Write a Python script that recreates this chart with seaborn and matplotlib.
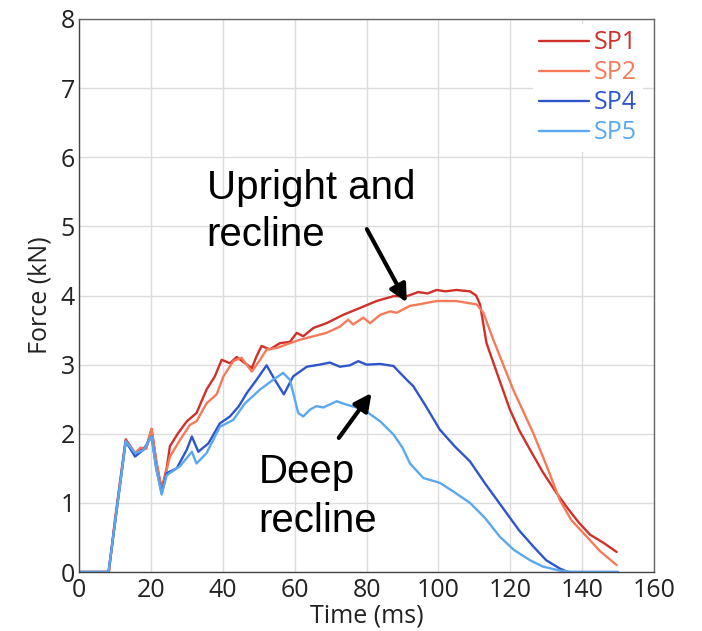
import matplotlib

matplotlib.use("Agg")
import matplotlib.pyplot as plt
import numpy as np
import pandas as pd
import seaborn as sns

# values (time in ms, force in kN)
SP1_T = [0, 8.3, 10, 13, 15.6, 17.5, 18.7, 20.2, 21.5, 23, 24.4, 25.3, 27.6, 30, 32.7,
         35.5, 37.8, 39.7, 42, 43.9, 46.2, 48.1, 49.4, 50.8, 53.1, 55.9, 58.7, 60.6,
         62.4, 65.2, 68.9, 73.5, 78.2, 82.8, 87.5, 91.2, 94.4, 97, 99.5, 102, 105,
         108.8, 110.5, 111.6, 113.4, 116.5, 119.9, 122.5, 125.5, 129, 132.9, 136,
         139, 142.2, 146, 149.6]
SP1_V = [0, 0, 0.75, 1.92, 1.72, 1.79, 1.8, 2.07, 1.6, 1.2, 1.5, 1.82, 2.01, 2.18, 2.3,
         2.64, 2.83, 3.07, 3.02, 3.11, 3.02, 2.95, 3.12, 3.27, 3.22, 3.31, 3.33, 3.46,
         3.41, 3.53, 3.6, 3.72, 3.82, 3.92, 3.99, 3.99, 4.05, 4.03, 4.08, 4.06, 4.08,
         4.06, 4.0, 3.87, 3.31, 2.85, 2.35, 2.05, 1.77, 1.45, 1.14, 0.92, 0.72, 0.54,
         0.42, 0.29]

SP2_T = [0, 8.3, 10, 13, 15.6, 17.1, 18.7, 20.2, 21.5, 23, 25.3, 28.1, 30.9, 32.7,
         35.5, 38.3, 40.2, 42.9, 45.2, 48.1, 50.4, 52.2, 55, 58.7, 61.5, 65.2, 68.9,
         72.6, 74.9, 76.3, 79.1, 81, 83.8, 86.6, 88.4, 92.1, 94.4, 99.5, 105, 110.7,
         112.5, 115.3, 120.8, 126.4, 130, 133.8, 137, 141.3, 145, 149.6]
SP2_V = [0, 0, 0.72, 1.9, 1.72, 1.8, 1.78, 2.07, 1.6, 1.18, 1.67, 1.91, 2.13, 2.18,
         2.44, 2.57, 2.83, 3.05, 3.1, 2.9, 3.07, 3.22, 3.24, 3.31, 3.36, 3.41, 3.46,
         3.55, 3.65, 3.58, 3.68, 3.6, 3.72, 3.77, 3.75, 3.85, 3.87, 3.92, 3.92, 3.87,
         3.75, 3.36, 2.64, 2.01, 1.55, 1.04, 0.75, 0.51, 0.3, 0.1]

SP4_T = [0, 8.2, 10, 13, 15.6, 17.9, 20.2, 21.5, 23, 24.4, 27.2, 30, 31.4, 33.2, 36,
         39.2, 42, 44.5, 46.7, 49.4, 52.2, 54.5, 57, 59.6, 63.4, 67, 69.8, 72.6, 75.4,
         77.7, 80, 83.8, 87.5, 91.2, 93, 96.5, 100.4, 104.5, 108.8, 113, 119, 122.5,
         126.4, 130, 133.8, 136, 150]
SP4_V = [0, 0, 0.7, 1.89, 1.67, 1.77, 1.96, 1.5, 1.14, 1.43, 1.5, 1.77, 1.96, 1.74,
         1.86, 2.15, 2.25, 2.4, 2.59, 2.78, 2.99, 2.78, 2.57, 2.83, 2.97, 3.0, 3.03,
         2.97, 2.99, 3.05, 3.0, 3.01, 2.98, 2.78, 2.69, 2.4, 2.06, 1.82, 1.6, 1.28,
         0.85, 0.6, 0.37, 0.17, 0.05, 0.0, 0.0]

SP5_T = [0, 8.2, 10, 13, 15.6, 17.9, 20.2, 21.5, 23, 24.4, 28.1, 31.4, 32.7, 35.5,
         39.2, 42.9, 46.2, 50.4, 54, 56.8, 58.7, 61, 62.4, 64.3, 66.1, 68, 71.7, 74.5,
         77.2, 80, 83.8, 87.5, 90, 92.1, 95.8, 100.4, 104, 108.8, 113, 117.1, 121,
         125.5, 129, 133.8, 137, 150]
SP5_V = [0, 0, 0.7, 1.89, 1.72, 1.76, 1.96, 1.5, 1.12, 1.4, 1.53, 1.74, 1.57, 1.72,
         2.1, 2.2, 2.44, 2.64, 2.78, 2.88, 2.78, 2.3, 2.25, 2.35, 2.4, 2.38, 2.47,
         2.42, 2.38, 2.32, 2.18, 1.99, 1.8, 1.57, 1.36, 1.29, 1.17, 1.0, 0.78, 0.51,
         0.32, 0.17, 0.08, 0.02, 0.0, 0.0]

SERIES = [("SP1", SP1_T, SP1_V), ("SP2", SP2_T, SP2_V),
          ("SP4", SP4_T, SP4_V), ("SP5", SP5_T, SP5_V)]
PALETTE = {"SP1": "#d0302a", "SP2": "#f47a5a", "SP4": "#2f56c9", "SP5": "#5aa8f0"}

df = pd.concat(
    [pd.DataFrame({"series": name, "t": t, "v": v}) for name, t, v in SERIES],
    ignore_index=True,
)

sns.set_style("white")
plt.rcParams["font.family"] = ["Open Sans", "DejaVu Sans"]

fig = plt.figure(figsize=(7.02, 6.31), dpi=100)
ax = fig.add_axes([79 / 702, 59 / 631, 575 / 702, 553 / 631])

sns.lineplot(data=df, x="t", y="v", hue="series", palette=PALETTE,
             estimator=None, sort=False, lw=1.7, ax=ax)

ax.set_xlim(0, 160)
ax.set_ylim(0, 8)
ax.set_xticks(np.arange(0, 161, 20))
ax.set_yticks(np.arange(0, 9, 1))
ax.grid(color="#dcdcdc", lw=1)
ax.set_axisbelow(True)
for side, sp in ax.spines.items():
    sp.set_color("#444444" if side in ("left", "bottom") else "#666666")
    sp.set_linewidth(1)
ax.tick_params(length=0, labelsize=18, colors="#222222", pad=4)
ax.tick_params(axis="y", pad=3)
ax.set_xlabel("Time (ms)", fontsize=18, color="#222222", labelpad=1)
ax.set_ylabel("Force (kN)", fontsize=18, color="#222222", labelpad=6)

leg = ax.legend(loc="upper right", bbox_to_anchor=(0.99, 1.0), fontsize=18,
                labelcolor="linecolor", frameon=True, facecolor="white",
                edgecolor="none", framealpha=1, handlelength=2.0,
                handletextpad=0.2, labelspacing=0.2, borderpad=0.25,
                borderaxespad=0.2)
leg.get_frame().set_boxstyle("square", pad=0)

txt = dict(family=["Liberation Sans", "DejaVu Sans"], fontsize=29, color="black",
           va="baseline", ha="left")
ax.text(35.5, 5.39, "Upright and", **txt)
ax.text(35.5, 4.71, "recline", **txt)
ax.text(50.0, 1.29, "Deep", **txt)
ax.text(50.0, 0.58, "recline", **txt)

arrow = dict(arrowstyle="-|>", color="black", lw=3, mutation_scale=26,
             shrinkA=0, shrinkB=0)
ax.annotate("", xy=(91.2, 3.9), xytext=(80.1, 4.96), arrowprops=arrow)
ax.annotate("", xy=(81.4, 2.59), xytext=(72.3, 1.94), arrowprops=arrow)

fig.savefig("out.png", dpi=100)
